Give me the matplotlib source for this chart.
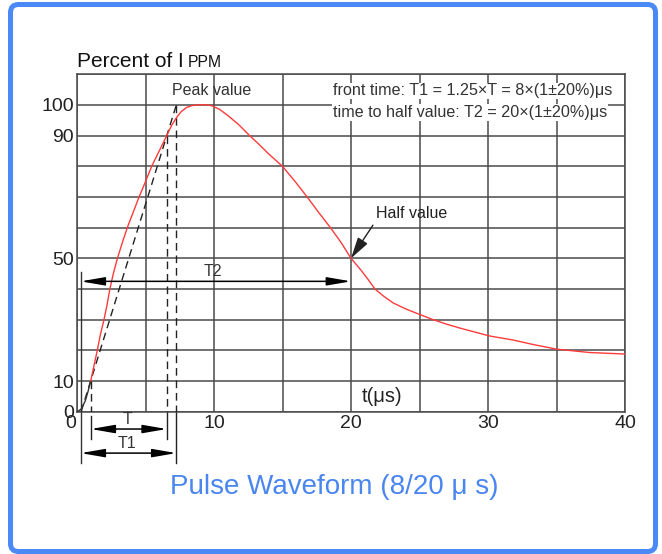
import numpy as np
import matplotlib
matplotlib.use('Agg')
import matplotlib.pyplot as plt
from matplotlib.patches import FancyBboxPatch
from matplotlib.transforms import IdentityTransform, ScaledTranslation

plt.rcParams['font.family'] = ['Liberation Sans', 'DejaVu Sans']

# dados (tempo em us, corrente em % de IPPM)
t_inicio = [0.0, 0.3, 0.6, 0.8, 1.0]
i_inicio = [0.0, 0.8, 3.5, 6.5, 10.0]

t_onda = [1.0, 1.2, 1.48, 1.7, 1.97, 2.2, 2.4, 2.65, 2.95, 3.3, 3.67, 4.1,
          4.53, 5.0, 5.45, 6.0, 6.55, 6.9, 7.28, 7.6, 8.0, 8.4, 8.8,
          9.3, 9.8, 10.4, 11.0, 11.8, 12.6, 13.3, 14.0, 15.0, 16.0, 16.8,
          17.6, 18.5, 19.3, 20.0, 20.7, 21.2, 21.75, 22.4, 23.1, 24.0, 24.9,
          26.0, 27.0, 28.0, 30.1, 31.8, 33.3, 35.0, 37.4, 40.0]
i_onda = [10, 14.2, 20, 25, 30, 35, 40, 45, 50, 55, 60, 65,
          70, 75, 80, 85, 90, 93.3, 96, 97.8, 99.2, 99.8, 100,
          100.1, 99.8, 98.6, 96.6, 93.6, 90, 87.1, 84, 80, 74.6, 70,
          65.2, 60, 55, 50, 46.3, 43.4, 40, 37.6, 35.4, 33.5, 31.9,
          30, 28.5, 27.2, 24.7, 23.4, 21.9, 20.4, 19.3, 18.8]

# pontos de referencia 10% / 90% / 100%
t10, t90, t100, t0 = 1.0, 6.55, 7.25, 0.27
t_meio = 20.0

x_ticks = [0, 5, 10, 15, 20, 25, 30, 35, 40]
x_labels = ['0', '', '10', '', '20', '', '30', '', '40']
y_ticks = [0, 10, 20, 30, 40, 50, 60, 70, 80, 90, 100, 110]
y_labels = ['0', '10', '', '', '', '50', '', '', '', '90', '100', '']

W, H = 662, 554
fig = plt.figure(figsize=(W / 100, H / 100), dpi=100)
ax = fig.add_axes([77 / W, (H - 411.7) / H, 548 / W, 337.4 / H])
ax.set_xlim(0, 40)
ax.set_ylim(0, 110)

cor_grade = '#4a4a4a'
ax.set_xticks(x_ticks, labels=x_labels)
ax.set_yticks(y_ticks, labels=y_labels)
ax.tick_params(length=0, labelsize=14, colors='#222222')
ax.tick_params(axis='x', pad=2.5)
ax.tick_params(axis='y', pad=2)
ax.grid(True, color=cor_grade, linewidth=1.1)
for s in ax.spines.values():
    s.set_color(cor_grade)
    s.set_linewidth(1.1)

# rotulo "0" do eixo x um pouco para a esquerda, como no original
lbl0 = ax.get_xticklabels()[0]
lbl0.set_transform(lbl0.get_transform() + ScaledTranslation(-6 / 100, 0, fig.dpi_scale_trans))

# curva
ax.plot(t_inicio, i_inicio, color='#333333', lw=1.0, zorder=4)
ax.plot(t_onda, i_onda, color='#ff3b3b', lw=1.0, zorder=4)

# reta virtual pelos pontos 10% e 90%
ax.plot([t0 + 0.03, t100], [0, 100], color='#222222', lw=1.0,
        dashes=(5.5, 3.5), zorder=3)

# linhas verticais tracejadas
ax.plot([t10, t10], [10, 0], color='#222222', lw=1.0, dashes=(5.5, 3.5), zorder=3)
ax.plot([t90, t90], [90, 0], color='#222222', lw=1.0, dashes=(5.5, 3.5), zorder=3)
ax.plot([t100, t100], [100, 0], color='#222222', lw=1.0, dashes=(5.5, 3.5), zorder=3)

# linhas de cota abaixo do eixo
ax.plot([t10, t10], [-1.5, -8.9], color='#222222', lw=1.0, clip_on=False)
ax.plot([t90, t90], [0, -8.9], color='#222222', lw=1.0, clip_on=False)
ax.plot([t100, t100], [0, -16.8], color='#222222', lw=1.0, clip_on=False)
ax.plot([t0, t0], [45.7, -16.8], color='#333333', lw=1.0, clip_on=False)

seta = dict(arrowstyle='<|-|>,head_length=1.45,head_width=0.25',
            color='black', lw=1.1, shrinkA=0, shrinkB=0, mutation_scale=10)
ax.annotate('', xy=(t90, -5.65), xytext=(t10, -5.65), arrowprops=seta,
            annotation_clip=False)
ax.annotate('', xy=(t100, -13.5), xytext=(t0, -13.5), arrowprops=seta,
            annotation_clip=False)
ax.annotate('', xy=(t_meio, 42.5), xytext=(t0, 42.5), arrowprops=seta,
            annotation_clip=False, zorder=5)

ax.text((t10 + t90) / 2 - 0.1, -5.0, 'T', ha='center', va='bottom',
        fontsize=11.5, color='#333333', clip_on=False)
ax.text((t0 + t100) / 2 - 0.1, -12.8, 'T1', ha='center', va='bottom',
        fontsize=11.5, color='#333333', clip_on=False)
ax.text(9.9, 43.2, 'T2', ha='center', va='bottom', fontsize=11.5,
        color='#333333')

# anotacoes
ax.text(9.8, 104.6, 'Peak value', ha='center', va='center', fontsize=11.5,
        color='#333333', zorder=6)
ax.text(24.4, 64.6, 'Half value', ha='center', va='center', fontsize=11.5,
        color='#222222', zorder=6)
ax.annotate('', xy=(t_meio, 50), xytext=(21.6, 60.8),
            arrowprops=dict(arrowstyle='-|>,head_length=1.3,head_width=0.35',
                            color='#222222', lw=1.0, shrinkA=0, shrinkB=0,
                            mutation_scale=10), zorder=6)

caixa = dict(facecolor='white', edgecolor='none', pad=0.6)
ax.text(18.7, 104.6, 'front time: T1 = 1.25\u00d7T = 8\u00d7(1\u00b120%)\u03bcs',
        ha='left', va='center', fontsize=11.65, color='#333333', bbox=caixa,
        zorder=6)
ax.text(18.7, 97.5, 'time to half value: T2 = 20\u00d7(1\u00b120%)\u03bcs',
        ha='left', va='center', fontsize=11.65, color='#333333', bbox=caixa,
        zorder=6)

ax.text(22.3, 4.9, 't(\u03bcs)', ha='center', va='center', fontsize=14.5,
        color='#222222', zorder=6)

# titulo do eixo y
fig.text(77 / W, (H - 66.7) / H, 'Percent of I', ha='left', va='baseline',
         fontsize=15, color='#111111')
fig.text(188 / W, (H - 66.7) / H, 'PPM', ha='left', va='baseline',
         fontsize=11.3, color='#111111')

# titulo azul
fig.text(334 / W, (H - 487) / H, 'Pulse Waveform (8/20 \u03bc s)',
         ha='center', va='center', fontsize=20, color='#4a86f0')

# moldura azul
moldura = FancyBboxPatch((10.5, 2.5), 645.0, 547.0,
                         boxstyle='round,pad=0,rounding_size=8',
                         transform=IdentityTransform(), facecolor='none',
                         edgecolor='#4b89f7', linewidth=3.6)
fig.patches.append(moldura)

fig.savefig('out.png', dpi=100)
